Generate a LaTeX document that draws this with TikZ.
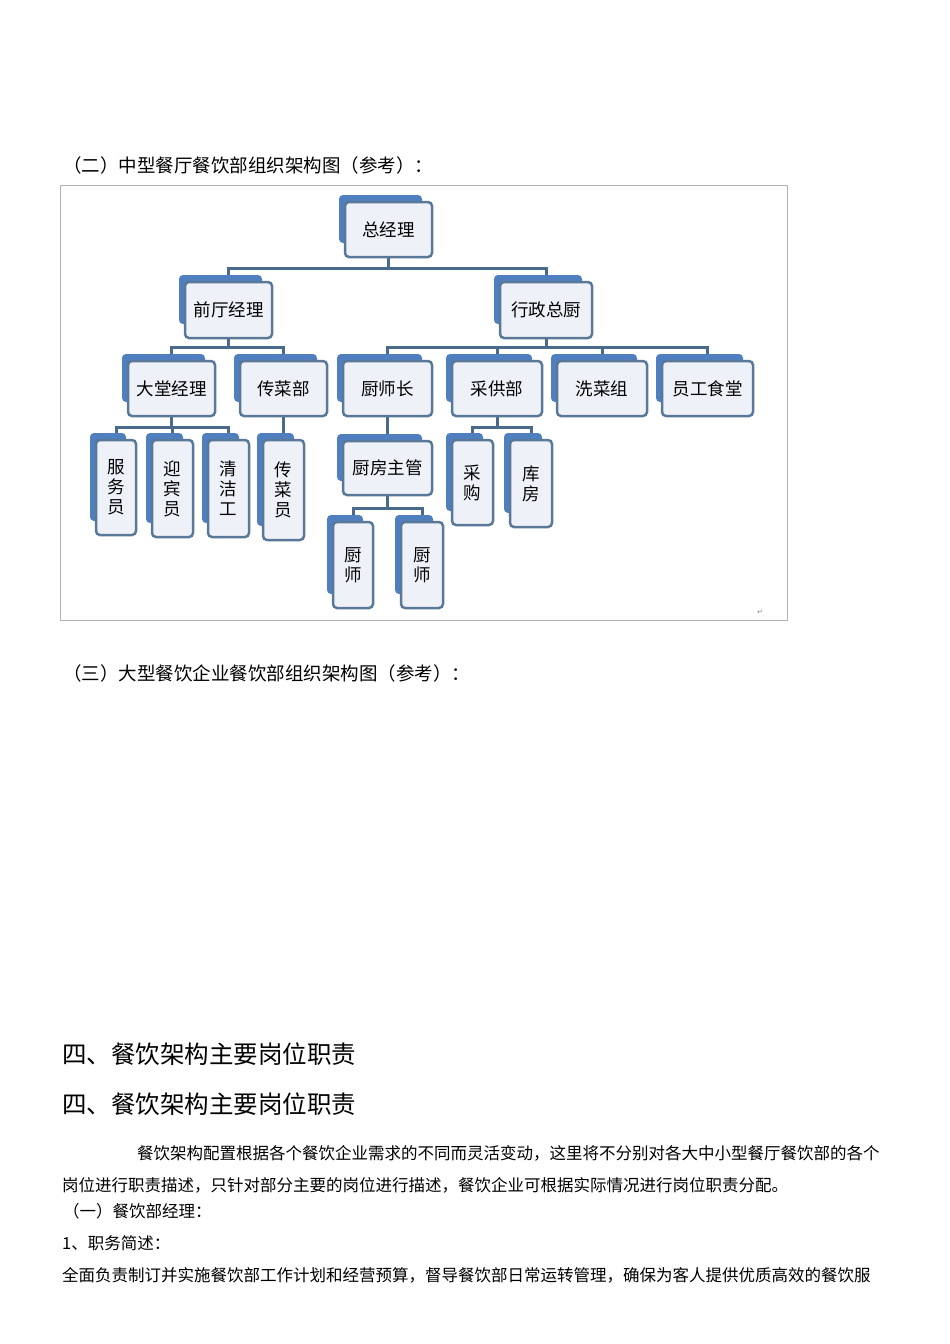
\documentclass[tikz,border=0pt]{standalone}
\usepackage{fontspec}
\setmainfont{Noto Sans CJK SC}
\newfontfamily\symf{DejaVu Sans}
\usetikzlibrary{backgrounds}
\definecolor{bk}{HTML}{4F7FBF}
\definecolor{fr}{HTML}{5A7898}
\definecolor{fl}{HTML}{EEF2F8}
\definecolor{ln}{HTML}{4A6A8C}
\tikzset{fbox/.style={draw=fr,line width=2.5pt,fill=fl,rounded corners=4pt,inner sep=0pt,font=\fontsize{17.5}{20}\selectfont,align=center},
conn/.style={draw=ln,line width=3pt},
txt/.style={anchor=west,inner sep=0pt,font=\fontsize{16.5}{20}\selectfont}}
\newcommand\obox[6]{%
 \fill[bk,rounded corners=4pt] (#2-6,#3-7) rectangle (#4-10,#5-14);
 \node[fbox,minimum width=#4-#2,minimum height=#5-#3] (#1) at ({(#2+#4)/2},{(#3+#5)/2}) {#6};}
\begin{document}
\begin{tikzpicture}[x=1pt,y=-1pt]
\useasboundingbox (0,0) rectangle (950,1344);
\node[txt,font=\fontsize{18.5}{22}\selectfont] (h2) at (63,165) {（二）中型餐厅餐饮部组织架构图（参考）：};
\draw[gray!60,line width=0.8pt] (60,185) rectangle (787,620);
\node[font=\symf\scriptsize,text=gray] (ret) at (760,612) {↵};
\obox{zjl}{345}{202}{432}{257}{总经理}
\obox{qt}{185}{282}{272}{338}{前厅经理}
\obox{xz}{500}{282}{592}{338}{行政总厨}
\obox{dt}{128}{361}{215}{416}{大堂经理}
\obox{cc}{240}{361}{327}{416}{传菜部}
\obox{cs}{343}{361}{432}{416}{厨师长}
\obox{cg}{452}{361}{542}{416}{采供部}
\obox{xc}{557}{361}{647}{416}{洗菜组}
\obox{yg}{662}{361}{753}{416}{员工食堂}
\obox{fw}{96}{440}{136}{535}{服\\务\\员}
\obox{yb}{152}{440}{193}{537}{迎\\宾\\员}
\obox{qj}{208}{440}{249}{537}{清\\洁\\工}
\obox{cy}{263}{440}{304}{540}{传\\菜\\员}
\obox{cf}{343}{441}{432}{495}{厨房主管}
\obox{caig}{452}{440}{493}{525}{采\\购}
\obox{kf}{510}{440}{552}{527}{库\\房}
\obox{cs1}{333}{522}{373}{608}{厨\\师}
\obox{cs2}{401}{522}{443}{608}{厨\\师}
\begin{scope}[on background layer]
\foreach \p/\c/\d in {zjl/qt/10,zjl/xz/10,qt/dt/8,qt/cc/8,xz/cs/8,xz/cg/8,xz/xc/8,xz/yg/8,dt/fw/10,dt/yb/10,dt/qj/10,cc/cy/10,cs/cf/10,cg/caig/10,cg/kf/10,cf/cs1/12,cf/cs2/12}
  \draw[conn] (\p.south) -- ++(0,\d) -| ([yshift=-9pt]\c.north);
\end{scope}
\node[txt,font=\fontsize{18.5}{22}\selectfont] (h3) at (63,673) {（三）大型餐饮企业餐饮部组织架构图（参考）：};
\node[txt,font=\fontsize{24.5}{28}\selectfont] (s4a) at (62,1054) {四、餐饮架构主要岗位职责};
\node[txt,font=\fontsize{24.5}{28}\selectfont] (s4b) at (62,1104) {四、餐饮架构主要岗位职责};
\node[txt] (p1) at (137,1153) {餐饮架构配置根据各个餐饮企业需求的不同而灵活变动，这里将不分别对各大中小型餐厅餐饮部的各个};
\node[txt] (p2) at (62,1185) {岗位进行职责描述，只针对部分主要的岗位进行描述，餐饮企业可根据实际情况进行岗位职责分配。};
\node[txt] (p3) at (63,1211) {（一）餐饮部经理：};
\node[txt] (p4) at (62,1243) {1、职务简述：};
\node[txt] (p5) at (62,1275) {全面负责制订并实施餐饮部工作计划和经营预算，督导餐饮部日常运转管理，确保为客人提供优质高效的餐饮服};
\end{tikzpicture}
\end{document}
